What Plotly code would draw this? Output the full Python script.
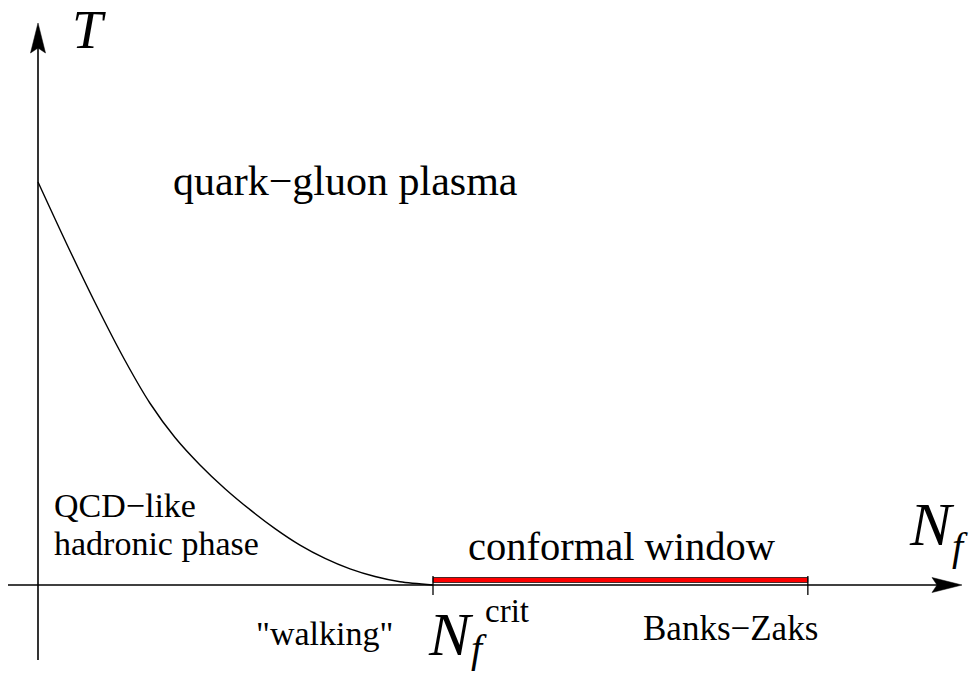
import plotly.graph_objects as go

# ---- data (N_f in units of N_f^crit, T in units of T at N_f = 0) ----
nf_curve = [0.000, 0.0709, 0.1443, 0.2203, 0.2835, 0.3468, 0.4101, 0.4734,
            0.5367, 0.6000, 0.6633, 0.7266, 0.7899, 0.8532, 0.9165, 1.000]
t_curve = [1.000, 0.850, 0.701, 0.557, 0.451, 0.366, 0.298, 0.239,
           0.187, 0.140, 0.099, 0.066, 0.040, 0.021, 0.008, 0.000]
nf_crit = 1.0
nf_banks_zaks = 1.949

# ---- layout geometry (pixel estimates -> data coordinates) ----
W, H = 971, 677
OX, OY = 38, 585          # pixel position of the origin
SX, SY = 395.0, 403.0     # pixels per data unit


def X(px):
    return (px - OX) / SX


def Y(py):
    return (OY - py) / SY


FONT = "Liberation Serif, Times New Roman, serif"

fig = go.Figure()

# phase boundary curve
fig.add_trace(go.Scatter(
    x=nf_curve, y=t_curve, mode="lines",
    line=dict(color="black", width=1.4, shape="spline", smoothing=0.8),
    hoverinfo="skip", showlegend=False,
))

shapes = []
# axes lines
shapes.append(dict(type="line", xref="x", yref="y", x0=X(8), x1=X(940), y0=0, y1=0,
                   line=dict(color="black", width=1.6)))
shapes.append(dict(type="line", xref="x", yref="y", x0=0, x1=0, y0=Y(660), y1=Y(40),
                   line=dict(color="black", width=1.6)))
# arrowheads
shapes.append(dict(type="path", xref="x", yref="y", xsizemode="pixel", ysizemode="pixel",
                   xanchor=0, yanchor=Y(23),
                   path="M 0,0 L 7.5,-30 L 0,-25 L -7.5,-30 Z",
                   fillcolor="black", line=dict(color="black", width=0.5)))
shapes.append(dict(type="path", xref="x", yref="y", xsizemode="pixel", ysizemode="pixel",
                   xanchor=X(962), yanchor=0,
                   path="M 0,0 L -30,7.5 L -25,0 L -30,-7.5 Z",
                   fillcolor="black", line=dict(color="black", width=0.5)))
# conformal window band
shapes.append(dict(type="rect", xref="x", yref="y", ysizemode="pixel", yanchor=0,
                   x0=nf_crit, x1=nf_banks_zaks, y0=2.5, y1=7.5,
                   fillcolor="#ff0000", line=dict(color="black", width=0.7)))
# tick marks
for xv in (nf_crit, nf_banks_zaks):
    shapes.append(dict(type="line", xref="x", yref="y", ysizemode="pixel", yanchor=0,
                       x0=xv, x1=xv, y0=-10, y1=9,
                       line=dict(color="black", width=1.3)))

annotations = []


def label(text, px, py, size, xanchor="center", yanchor="middle"):
    annotations.append(dict(text=text, x=X(px), y=Y(py), xref="x", yref="y",
                            showarrow=False, xanchor=xanchor, yanchor=yanchor,
                            borderpad=0,
                            font=dict(family=FONT, size=size, color="black")))


label("<i>T</i>", 89, 29, 55)
label("quark\u2212gluon plasma", 345, 181, 42)
label("QCD\u2212like", 53, 505, 34, xanchor="left")
label("hadronic phase", 53, 543, 34, xanchor="left")
label("conformal window", 622, 546, 40.5)
label("Banks\u2212Zaks", 730, 628, 35)
label("\"walking\"", 324, 633, 34)
# N_f^crit
label("<i>N</i>", 427, 634, 62, xanchor="left")
label("<i>f</i>", 470, 648, 40, xanchor="left")
label("crit", 507, 611, 33)
# N_f axis label
label("<i>N</i>", 908, 524, 62, xanchor="left")
label("<i>f</i>", 951, 546, 40, xanchor="left")

fig.update_layout(
    width=W, height=H, autosize=False,
    margin=dict(l=0, r=0, t=0, b=0, pad=0),
    paper_bgcolor="white", plot_bgcolor="white",
    xaxis=dict(range=[X(0), X(W)], visible=False, fixedrange=True),
    yaxis=dict(range=[Y(H), Y(0)], visible=False, fixedrange=True),
    shapes=shapes, annotations=annotations,
    showlegend=False,
)

fig.write_html(
    "out.html",
    config={"displayModeBar": False, "staticPlot": True},
    post_script="document.body.style.margin='0px';document.body.style.overflow='hidden';",
)
